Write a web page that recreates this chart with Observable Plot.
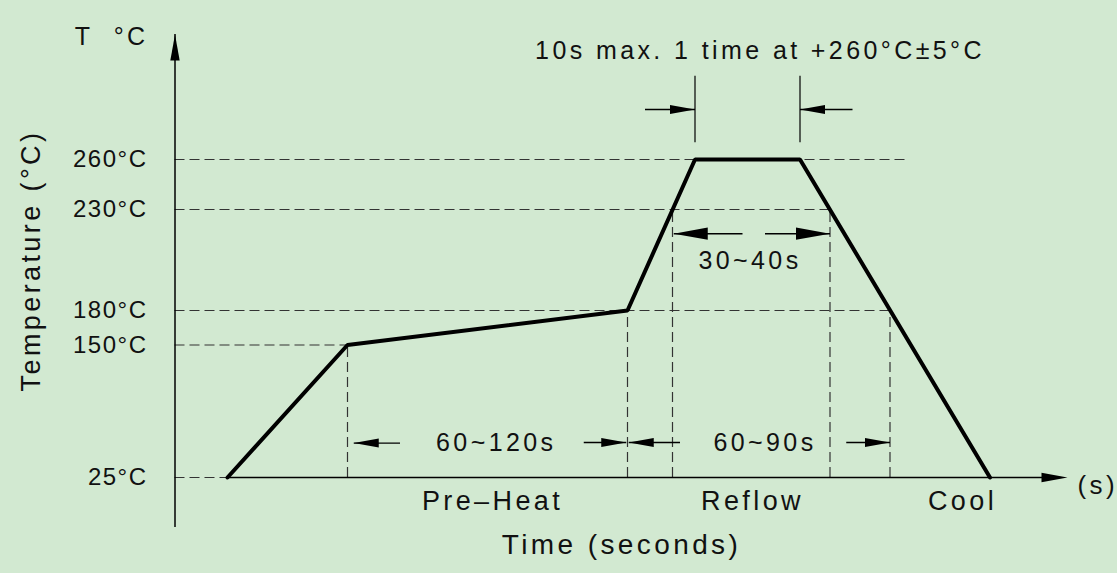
<!DOCTYPE html>
<html>
<head>
<meta charset="utf-8">
<script src="https://cdn.jsdelivr.net/npm/d3@7"></script>
<script src="https://cdn.jsdelivr.net/npm/@observablehq/plot@0.6"></script>
<style>
  html, body { margin: 0; padding: 0; background: #d2e9d1; }
  #chart svg text { letter-spacing: 3.4px; }
  #chart g[aria-label="y-axis tick label"] text { letter-spacing: 1.5px; }
  #chart g[aria-label="unit"] text { white-space: pre; letter-spacing: 0.3px; }
  #chart g[aria-label="x-unit"] text { letter-spacing: 0.5px; }
  #chart g[aria-label="y-title"] text { letter-spacing: 3.7px; }
  #chart g[aria-label="x-title"] text { letter-spacing: 4.6px; }
  #chart g[aria-label="note"] text { letter-spacing: 3.3px; }
  #chart g[aria-label="headline"] text { letter-spacing: 3.6px; }
</style>
</head>
<body>
<div id="chart"></div>
<script>
// ---- data (schematic time units, temperatures in °C) ----
const profileTime = [21, 69, 181, 208, 250, 326];
const profileTemp = [25, 150, 180, 260, 260, 25];

const tempTicks = [25, 150, 180, 230, 260];

const guideTemps = [260, 230, 180, 150, 25];
const guideEnds  = [292, 262, 286, 69, 21];

const dropTimes = [69, 181, 199, 262, 286];
const dropTemps = [150, 180, 230, 230, 180];

const limitTimes = [208, 250];
const limitLow = 270;
const limitHigh = 310;

const arrowTail = [188, 271, 227, 236, 90, 163.5, 202, 268.5];
const arrowTip  = [208, 250, 199.5, 262, 71.5, 180.5, 181.5, 286];
const arrowTemp = [290, 290, 218, 218, 57.5, 58, 58, 58];
const arrowBig  = [false, false, true, true, false, false, false, false];

const headline = "10s max. 1 time at +260°C±5°C";
const headlineTime = 234;
const headlineTemp = 325;

const noteText = ["30~40s", "60~120s", "60~90s"];
const noteTime = [230, 128.5, 236];
const noteTemp = [204.5, 57.5, 57.5];

const phaseText = ["Pre\u2013Heat", "Reflow", "Cool"];
const phaseTime = [127, 231, 315];

const timeAxisEnd = 357;
const yTitle = "Temperature (°C)";
const xTitle = "Time (seconds)";
const yUnit = "T  °C";
const xUnit = "(s)";

// ---- derived tables ----
const profile = profileTime.map((t, i) => ({t, temp: profileTemp[i]}));
const guides = guideTemps.map((temp, i) => ({temp, end: guideEnds[i]}));
const drops = dropTimes.map((t, i) => ({t, top: dropTemps[i]}));
const arrows = arrowTail.map((tail, i) => ({tail, tip: arrowTip[i], temp: arrowTemp[i], big: arrowBig[i]}));
const notes = noteText.map((label, i) => ({label, t: noteTime[i], temp: noteTemp[i]}));
const phases = phaseText.map((label, i) => ({label, t: phaseTime[i]}));

// filled arrowhead symbol, tip at origin pointing up
const arrowHead = {
  draw(ctx, size) {
    const r = Math.sqrt(size / Math.PI);
    const w = r * 0.18;
    ctx.moveTo(0, 0);
    ctx.lineTo(w, r);
    ctx.lineTo(-w, r);
    ctx.closePath();
  }
};

const font = "Liberation Sans, Arial, sans-serif";
const ink = "#111";
const dash = {stroke: "#333", strokeWidth: 1.2, strokeDasharray: "10,5"};

const chart = Plot.plot({
  width: 1117,
  height: 573,
  marginLeft: 175,
  marginRight: 50,
  marginTop: 34,
  marginBottom: 46,
  style: {fontFamily: font, background: "#d2e9d1", color: ink},
  x: {type: "linear", domain: [0, timeAxisEnd], range: [174.5, 1067], axis: null},
  y: {type: "linear", domain: [25, 150, 180, 230, 260], range: [477, 344.5, 310, 209, 159]},
  marks: [
    // dashed guide lines
    Plot.ruleY(guides, {y: "temp", x1: 0, x2: "end", ...dash}),
    Plot.ruleX(drops, {x: "t", y1: 25, y2: "top", ...dash}),
    // axes
    Plot.ruleX([0], {stroke: "#000", strokeWidth: 1.5}),
    Plot.dot([0], {x: d => d, frameAnchor: "top", symbol: arrowHead, r: 26, fill: "#000", stroke: "none"}),
    Plot.ruleY([25], {x1: profileTime[0], x2: timeAxisEnd - 8, stroke: "#000", strokeWidth: 1.5}),
    Plot.dot([{t: timeAxisEnd, temp: 25}], {x: "t", y: "temp", symbol: arrowHead, r: 26, rotate: 90, fill: "#000", stroke: "none"}),
    Plot.axisY(tempTicks, {tickSize: 0, tickPadding: 28, tickFormat: d => `${d}°C`, fontSize: 24, label: null}),
    // peak limit lines
    Plot.ruleX(limitTimes, {y1: limitLow, y2: limitHigh, stroke: "#000", strokeWidth: 1.2}),
    // profile
    Plot.line(profile, {x: "t", y: "temp", stroke: "#000", strokeWidth: 4, strokeLinejoin: "miter"}),
    // dimension arrows
    Plot.link(arrows, {x1: "tail", x2: "tip", y1: "temp", y2: "temp", stroke: "#000", strokeWidth: 1.3}),
    Plot.dot(arrows.filter(d => !d.big), {x: "tip", y: "temp", symbol: arrowHead, r: 25, rotate: d => d.tip > d.tail ? 90 : -90, fill: "#000", stroke: "none"}),
    Plot.dot(arrows.filter(d => d.big), {x: "tip", y: "temp", symbol: arrowHead, r: 34, rotate: d => d.tip > d.tail ? 90 : -90, fill: "#000", stroke: "none"}),
    // texts
    Plot.text([headline], {x: () => headlineTime, y: () => headlineTemp, text: d => d, fontSize: 25, fill: ink, ariaLabel: "headline"}),
    Plot.text(notes, {x: "t", y: "temp", text: "label", fontSize: 25, fill: ink, ariaLabel: "note"}),
    Plot.text(phases, {x: "t", text: "label", frameAnchor: "bottom", dy: -18, fontSize: 27, fill: ink, ariaLabel: "note"}),
    Plot.text([xTitle], {frameAnchor: "bottom", textAnchor: "middle", dy: 26, fontSize: 28, fill: ink, ariaLabel: "x-title"}),
    Plot.text([yTitle], {frameAnchor: "left", textAnchor: "middle", rotate: -90, dx: -144, dy: -20.5, fontSize: 27, fill: ink, ariaLabel: "y-title"}),
    Plot.text([yUnit], {frameAnchor: "top-left", textAnchor: "end", dx: -27, dy: -7, fontSize: 25, fill: ink, ariaLabel: "unit"}),
    Plot.text([xUnit], {x: () => 361, y: () => 25, textAnchor: "start", dy: 8, fontSize: 26, fill: ink, ariaLabel: "x-unit"})
  ]
});

document.getElementById("chart").appendChild(chart);
</script>
</body>
</html>
